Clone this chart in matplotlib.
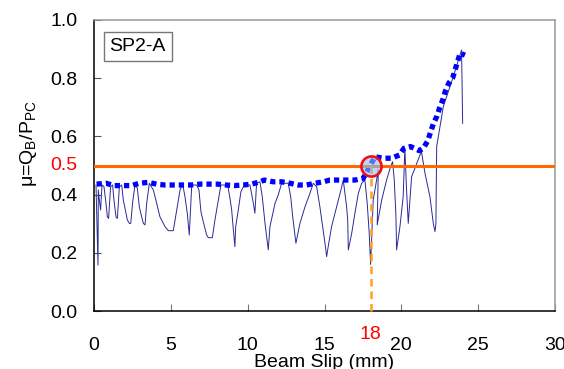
import numpy as np
import matplotlib.pyplot as plt
from matplotlib.transforms import blended_transform_factory

plt.rcParams['font.family'] = ['Liberation Sans', 'DejaVu Sans']

# cyclic load-slip curve (thin line)
slip = [0.13, 0.26, 0.28, 0.35, 0.43, 0.52, 0.65, 0.78, 0.87, 0.95, 1.08, 1.21,
        1.30, 1.43, 1.52, 1.65, 1.80, 1.91, 2.08, 2.17, 2.30, 2.39, 2.52, 2.67,
        2.82, 2.95, 3.10, 3.21, 3.32, 3.43, 3.60, 3.86, 4.08, 4.29, 4.62, 4.84,
        5.16, 5.38, 5.60, 5.77, 5.92, 6.07, 6.20, 6.36, 6.68, 6.83, 6.96, 7.11,
        7.33, 7.44, 7.70, 7.87, 8.09, 8.26, 8.70, 8.85, 8.96, 9.06, 9.17, 9.22,
        9.39, 9.56, 9.78, 10.15, 10.37, 10.47, 10.58, 10.80, 10.95, 11.13, 11.34,
        11.45, 11.78, 11.99, 12.21, 12.64, 12.80, 12.93, 13.14, 13.40, 13.73,
        14.05, 14.27, 14.49, 14.70, 14.88, 15.03, 15.14, 15.24, 15.46, 15.79,
        16.07, 16.22, 16.33, 16.44, 16.51, 16.55, 16.77, 16.98, 17.20, 17.42,
        17.63, 17.78, 17.91, 18.00, 18.17, 18.39, 18.50, 18.43, 18.72, 19.04,
        19.30, 19.43, 19.54, 19.65, 19.69, 19.91, 20.12, 20.23, 20.34, 20.45,
        20.67, 20.88, 21.21, 21.32, 21.54, 21.86, 22.08, 22.19, 22.25, 22.30,
        22.73, 23.38, 23.92, 23.99]
mu = [0.433, 0.158, 0.416, 0.381, 0.347, 0.433, 0.427, 0.370, 0.324, 0.318,
      0.427, 0.433, 0.381, 0.324, 0.318, 0.427, 0.433, 0.381, 0.336, 0.313,
      0.301, 0.301, 0.376, 0.433, 0.422, 0.358, 0.324, 0.301, 0.296, 0.370,
      0.439, 0.416, 0.370, 0.324, 0.290, 0.276, 0.276, 0.347, 0.416, 0.436,
      0.393, 0.336, 0.261, 0.433, 0.433, 0.416, 0.341, 0.307, 0.261, 0.252,
      0.252, 0.313, 0.381, 0.433, 0.433, 0.387, 0.347, 0.284, 0.221, 0.290,
      0.347, 0.410, 0.433, 0.433, 0.370, 0.336, 0.439, 0.444, 0.393, 0.301,
      0.210, 0.290, 0.370, 0.399, 0.439, 0.439, 0.393, 0.324, 0.233, 0.301,
      0.358, 0.404, 0.439, 0.427, 0.358, 0.290, 0.233, 0.187, 0.221, 0.290,
      0.358, 0.416, 0.450, 0.404, 0.358, 0.313, 0.210, 0.267, 0.336, 0.404,
      0.439, 0.450, 0.370, 0.267, 0.160, 0.381, 0.450, 0.485, 0.296, 0.381,
      0.450, 0.496, 0.513, 0.450, 0.324, 0.210, 0.290, 0.393, 0.560, 0.416,
      0.301, 0.462, 0.490, 0.536, 0.545, 0.473, 0.393, 0.301, 0.273, 0.300,
      0.565, 0.702, 0.805, 0.897, 0.645]

# envelope (dotted)
env_slip = [0.17, 0.78, 1.30, 1.87, 2.45, 2.95, 3.53, 4.08, 4.62, 5.16, 5.70,
            6.31, 6.90, 7.44, 8.02, 8.57, 9.13, 9.71, 10.26, 10.80, 11.08,
            11.67, 12.21, 12.75, 13.29, 13.84, 14.38, 14.92, 15.35, 15.90,
            16.44, 16.98, 17.52, 17.96, 18.28, 18.82, 19.37, 19.87, 20.17,
            20.60, 21.17, 21.43, 21.71, 21.90, 22.08, 22.32, 22.49, 22.69,
            22.86, 23.08, 23.34, 23.51, 23.66, 23.84, 24.14]
env_mu = [0.436, 0.439, 0.431, 0.431, 0.431, 0.439, 0.442, 0.436, 0.433,
          0.433, 0.433, 0.433, 0.436, 0.436, 0.436, 0.433, 0.431, 0.433,
          0.436, 0.444, 0.450, 0.444, 0.444, 0.439, 0.433, 0.433, 0.439,
          0.444, 0.450, 0.450, 0.450, 0.450, 0.456, 0.498, 0.530, 0.525,
          0.525, 0.536, 0.559, 0.565, 0.551, 0.559, 0.584, 0.614, 0.643,
          0.670, 0.698, 0.725, 0.755, 0.782, 0.801, 0.830, 0.858, 0.886, 0.879]

mu_level = 0.5
slip_at_level = 18
xticks = [0, 5, 10, 15, 20, 25, 30]
yticks = [0.0, 0.2, 0.4, 0.6, 0.8, 1.0]

fs = 14

fig = plt.figure(figsize=(5.64, 3.69), dpi=100)
ax = fig.add_axes([94/564, 58/369, 461/564, 291/369])

ax.plot(slip, mu, color='#2a2a96', lw=0.7, zorder=2)
ax.plot(env_slip, env_mu, color='#0000ff', lw=3.8, linestyle=(0, (1, 0.75)),
        dash_capstyle='butt', zorder=3)
ax.axhline(mu_level, color='#ff6a00', lw=2.2, zorder=4)
ax.plot([slip_at_level, slip_at_level], [mu_level, 0.0], color='#ffa020',
        lw=1.8, linestyle=(0, (3, 2)), zorder=4, clip_on=False)
ax.plot([slip_at_level], [mu_level], marker='o', markersize=14.5,
        markerfacecolor=(0.55, 0.75, 0.95, 0.6), markeredgecolor='#ee1111',
        markeredgewidth=1.9, zorder=5)

ax.set_xlim(0, 30)
ax.set_ylim(0, 1.0)
ax.set_xticks(xticks)
ax.set_xticklabels([str(v) for v in xticks])
ax.set_yticks(yticks)
ax.set_yticklabels([f"{v:.1f}" for v in yticks])
ax.tick_params(axis='x', direction='in', length=5, color='#777777',
               labelsize=fs, pad=19)
ax.tick_params(axis='y', direction='in', length=5, color='#555555',
               labelsize=fs, pad=12)

ax.spines['left'].set_color('black')
ax.spines['bottom'].set_color('black')
ax.spines['top'].set_color('#999999')
ax.spines['right'].set_color('#999999')
for sp in ax.spines.values():
    sp.set_linewidth(1.1)

# red highlight labels
ax.text(-0.035, mu_level, '0.5', color='red', fontsize=fs, ha='right',
        va='center', transform=blended_transform_factory(ax.transAxes, ax.transData))
ax.text(slip_at_level, -0.05, '18', color='red', fontsize=fs, ha='center',
        va='top', transform=blended_transform_factory(ax.transData, ax.transAxes))

ax.set_xlabel('Beam Slip (mm)', fontsize=fs, labelpad=0)
ax.set_ylabel('μ=Q$_\\mathregular{B}$/P$_\\mathregular{PC}$', fontsize=fs)
ax.yaxis.set_label_coords(-0.12, 0.575)

ax.text(0.095, 0.909, 'SP2-A', fontsize=fs, ha='center', va='center',
        transform=ax.transAxes,
        bbox=dict(boxstyle='square,pad=0.3', facecolor='white',
                  edgecolor='#777777', linewidth=1.0))

fig.savefig('out.png', dpi=100)
